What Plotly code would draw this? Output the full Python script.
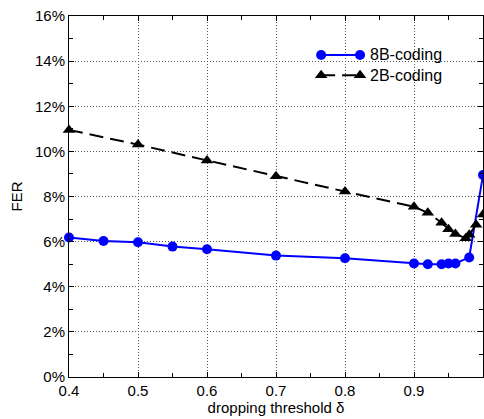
import plotly.graph_objects as go

# ---- data ----
x_8b = [0.4, 0.45, 0.5, 0.55, 0.6, 0.7, 0.8, 0.9, 0.92, 0.94, 0.95, 0.96, 0.98, 1.0]
fer_8b = [6.18, 6.03, 5.97, 5.78, 5.66, 5.38, 5.26, 5.03, 5.0, 5.0, 5.03, 5.03, 5.3, 8.95]

x_2b = [0.4, 0.5, 0.6, 0.7, 0.8, 0.9, 0.92, 0.94, 0.95, 0.96, 0.975, 0.98, 0.99, 1.0]
fer_2b = [10.95, 10.3, 9.6, 8.9, 8.22, 7.55, 7.28, 6.84, 6.55, 6.34, 6.15, 6.3, 6.75, 7.2]

x_tickvals = [0.4, 0.5, 0.6, 0.7, 0.8, 0.9, 1.0]
x_ticktext = ["0.4", "0.5", "0.6", "0.7", "0.8", "0.9", "1"]
y_tickvals = [0, 2, 4, 6, 8, 10, 12, 14, 16]
y_ticktext = [f"{v}%" for v in y_tickvals]

series_names = ["8B-coding", "2B-coding"]

FONT = "Liberation Sans, Arial, sans-serif"
BLUE = "#0000ff"
BLACK = "#000000"

fig = go.Figure()

fig.add_trace(go.Scatter(
    x=x_8b, y=fer_8b, mode="lines+markers", name=series_names[0],
    line=dict(color=BLUE, width=2),
    marker=dict(symbol="circle", size=10, color=BLUE),
    cliponaxis=False, showlegend=False,
))
fig.add_trace(go.Scatter(
    x=x_2b, y=fer_2b, mode="lines+markers", name=series_names[1],
    line=dict(color=BLACK, width=2, dash="14px,7px"),
    marker=dict(symbol="triangle-up", size=11, color=BLACK),
    cliponaxis=False, showlegend=False,
))

# ---- manual legend (MATLAB style: markers at both ends) on overlay axes ----
leg_x = [0.609, 0.703]
leg_y = [0.892, 0.836]
fig.add_shape(type="rect", xref="paper", yref="paper",
              x0=0.585, x1=0.935, y0=0.80, y1=0.935,
              fillcolor="white", line=dict(width=0), layer="between")
fig.add_trace(go.Scatter(
    x=leg_x, y=[leg_y[0]] * 2, xaxis="x2", yaxis="y2", mode="lines+markers",
    line=dict(color=BLUE, width=2), marker=dict(symbol="circle", size=10, color=BLUE),
    showlegend=False, hoverinfo="skip"))
fig.add_trace(go.Scatter(
    x=leg_x, y=[leg_y[1]] * 2, xaxis="x2", yaxis="y2", mode="lines+markers",
    line=dict(color=BLACK, width=2, dash="14px,7px"),
    marker=dict(symbol="triangle-up", size=11, color=BLACK),
    showlegend=False, hoverinfo="skip"))
for name, yy in zip(series_names, leg_y):
    fig.add_annotation(x=0.722, y=yy, xref="paper", yref="paper", text=name,
                       showarrow=False, xanchor="left", yanchor="middle",
                       font=dict(family=FONT, size=16, color="black"))

axis_common = dict(
    showline=True, linecolor="black", linewidth=1, mirror="allticks",
    ticks="inside", ticklen=5, tickcolor="black", tickwidth=1,
    showgrid=True, gridcolor="#555555", gridwidth=1, griddash="1px,2px",
    zeroline=False, tickfont=dict(family=FONT, size=15, color="black"),
)

fig.update_layout(
    width=484, height=419,
    margin=dict(l=69, r=1, t=16, b=42),
    paper_bgcolor="white", plot_bgcolor="white",
    font=dict(family=FONT, size=15, color="black"),
    xaxis=dict(
        range=[0.4, 1.0], tickvals=x_tickvals, ticktext=x_ticktext,
        minor=dict(dtick=0.05, tick0=0.4, ticks="inside", ticklen=4, tickcolor="black", showgrid=False),
        title=dict(text="dropping threshold δ", standoff=0, font=dict(family=FONT, size=15)),
        **axis_common),
    yaxis=dict(
        range=[0, 16], tickvals=y_tickvals, ticktext=y_ticktext,
        minor=dict(dtick=1, tick0=0, ticks="inside", ticklen=4, tickcolor="black", showgrid=False),
        title=dict(text="FER", standoff=8, font=dict(family=FONT, size=15)),
        **axis_common),
    xaxis2=dict(overlaying="x", range=[0, 1], visible=False, domain=[0, 1]),
    yaxis2=dict(overlaying="y", range=[0, 1], visible=False, domain=[0, 1]),
)

fig.write_html("out.html")
